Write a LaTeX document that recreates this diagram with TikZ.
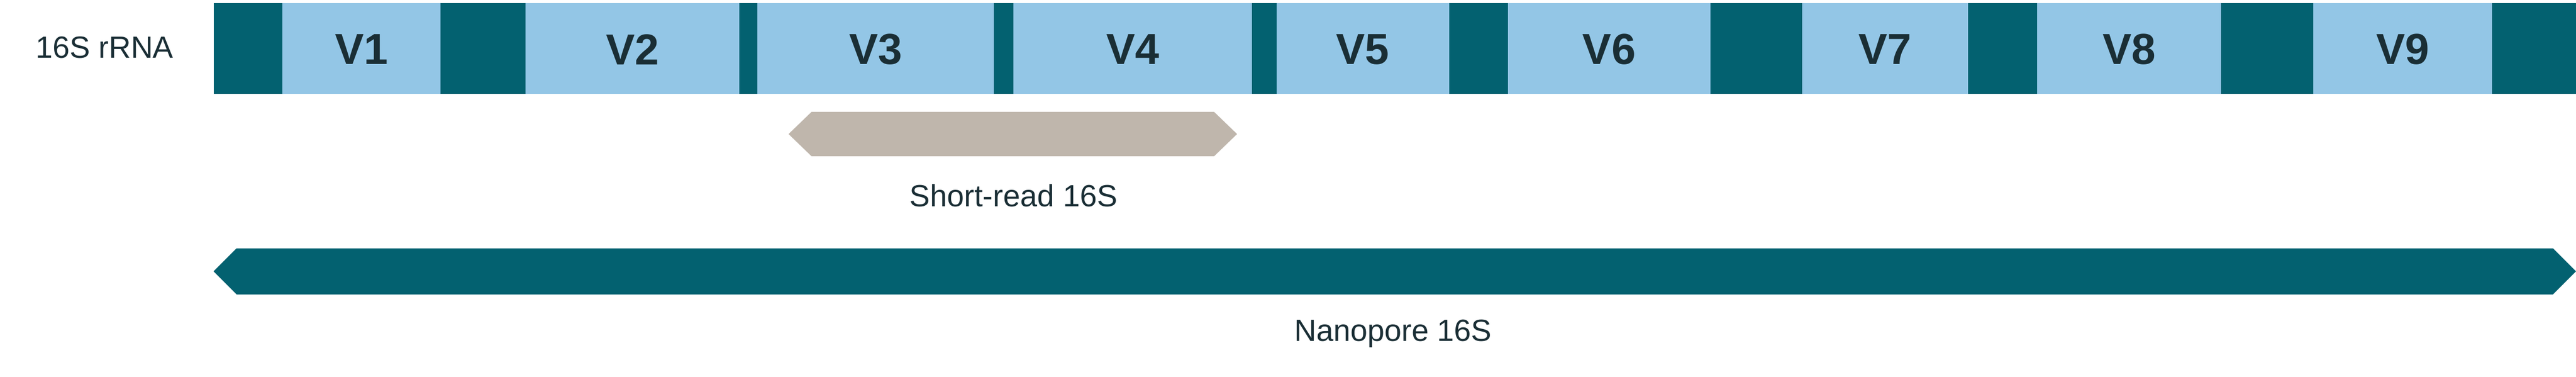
\documentclass[tikz,border=0pt]{standalone}
\usepackage{fontspec}
\setmainfont{Liberation Sans}
\definecolor{dk}{HTML}{036170}
\definecolor{lt}{HTML}{93C6E6}
\definecolor{gr}{HTML}{BFB6AC}
\definecolor{tx}{HTML}{1A2E35}
\begin{document}
\begin{tikzpicture}[x=0.01cm,y=-0.01cm,
  dseg/.style={fill=dk,draw=none},
  lseg/.style={fill=lt,draw=none},
  vl/.style={font=\fontsize{7.5}{8}\selectfont\bfseries,text=tx},
  lab/.style={font=\fontsize{5.3}{6}\selectfont,text=tx}]
\useasboundingbox (0,0) rectangle (1568,229);
\fill[dk] (130,2) rectangle (1568,57);
\foreach \a/\b/\n in {172/268/V1,320/450/V2,461/605/V3,617/762/V4,777/882/V5,918/1041/V6,1097/1198/V7,1240/1352/V8,1408/1517/V9}{
  \fill[lt] (\a,2) rectangle (\b,57);
  \node[vl] (\n) at ({(\a+\b)/2},30) {\n};
}
\node[lab,anchor=east] (r) at (118,29) {16S rRNA};
\fill[gr] (480,81.5) -- (494,68) -- (739,68) -- (753,81.5) -- (739,95) -- (494,95) -- cycle;
\node[lab] (s) at (617,119) {Short-read 16S};
\fill[dk] (130,165) -- (144,151) -- (1554,151) -- (1568,165) -- (1554,179) -- (144,179) -- cycle;
\node[lab] (n) at (848,203) {Nanopore 16S};
\end{tikzpicture}
\end{document}
